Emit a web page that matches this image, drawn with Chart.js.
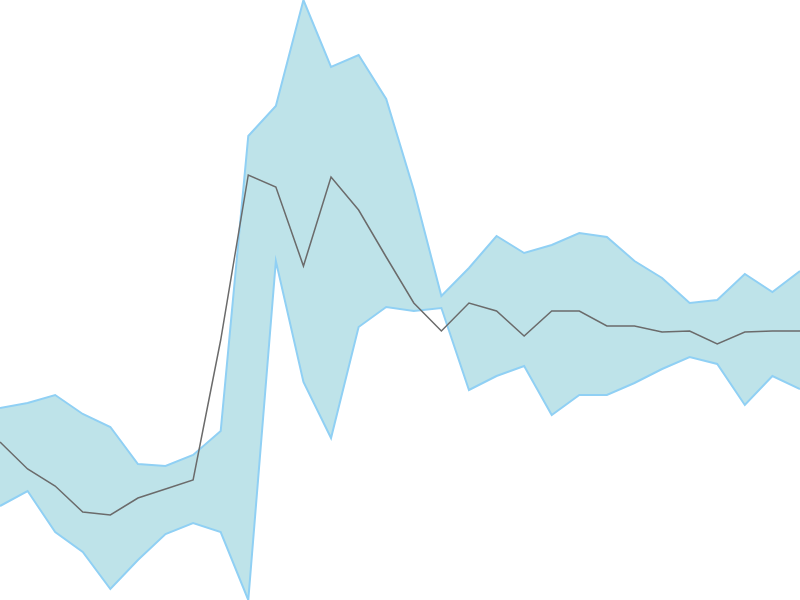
<!DOCTYPE html>
<html>
<head>
<meta charset="utf-8">
<script src="https://cdn.jsdelivr.net/npm/chart.js@4/dist/chart.umd.min.js"></script>
<style>
html, body { margin: 0; padding: 0; background: #fff; }
#wrap { width: 800px; height: 600px; }
</style>
</head>
<body>
<div id="wrap"><canvas id="canvas"></canvas></div>
<script>
var labels = [];
for (var i = 0; i < 30; i++) labels.push(String(i + 1));

var upper = [192, 197, 205, 186, 173, 136, 134, 145, 169, 464, 494, 600, 533, 545, 501, 410, 304, 332, 364, 347, 355, 367, 363, 339, 322, 297, 300, 326, 308, 329];
var lower = [94, 109, 68, 48, 11, 40, 66, 77, 68, 0, 339, 218, 162, 273, 293, 289, 292, 210, 224, 234, 185, 205, 205, 217, 231, 243, 236, 195, 224, 211];
var middle = [158, 131, 114, 88, 85, 102, 111, 120, 260, 425, 413, 334, 423, 390, 343, 297, 269, 297, 289, 264, 289, 289, 274, 274, 268, 269, 256, 268, 269, 269];

(function(){
	var canvas = document.getElementById("canvas");

	var config = {
		type: 'line',
		data: {
			labels: labels,
			datasets: [{
				data: middle,
				borderColor: '#6b6b6b',
				borderWidth: 1.5,
				fill: false,
				pointRadius: 0,
				tension: 0
			}, {
				data: upper,
				borderColor: '#90d0f4',
				borderWidth: 2,
				backgroundColor: '#bee3e9',
				fill: '+1',
				pointRadius: 0,
				tension: 0
			}, {
				data: lower,
				borderColor: '#90d0f4',
				borderWidth: 2,
				fill: false,
				pointRadius: 0,
				tension: 0
			}]
		},
		options: {
			responsive: true,
			maintainAspectRatio: false,
			animation: false,
			layout: { padding: 0 },
			plugins: {
				legend: { display: false },
				tooltip: { enabled: false },
				filler: { drawTime: 'beforeDatasetsDraw' }
			},
			scales: {
				x: { display: false, offset: false },
				y: { display: false, min: 0, max: 600 }
			}
		}
	};

	new Chart(canvas, config);
}());
</script>
</body>
</html>
